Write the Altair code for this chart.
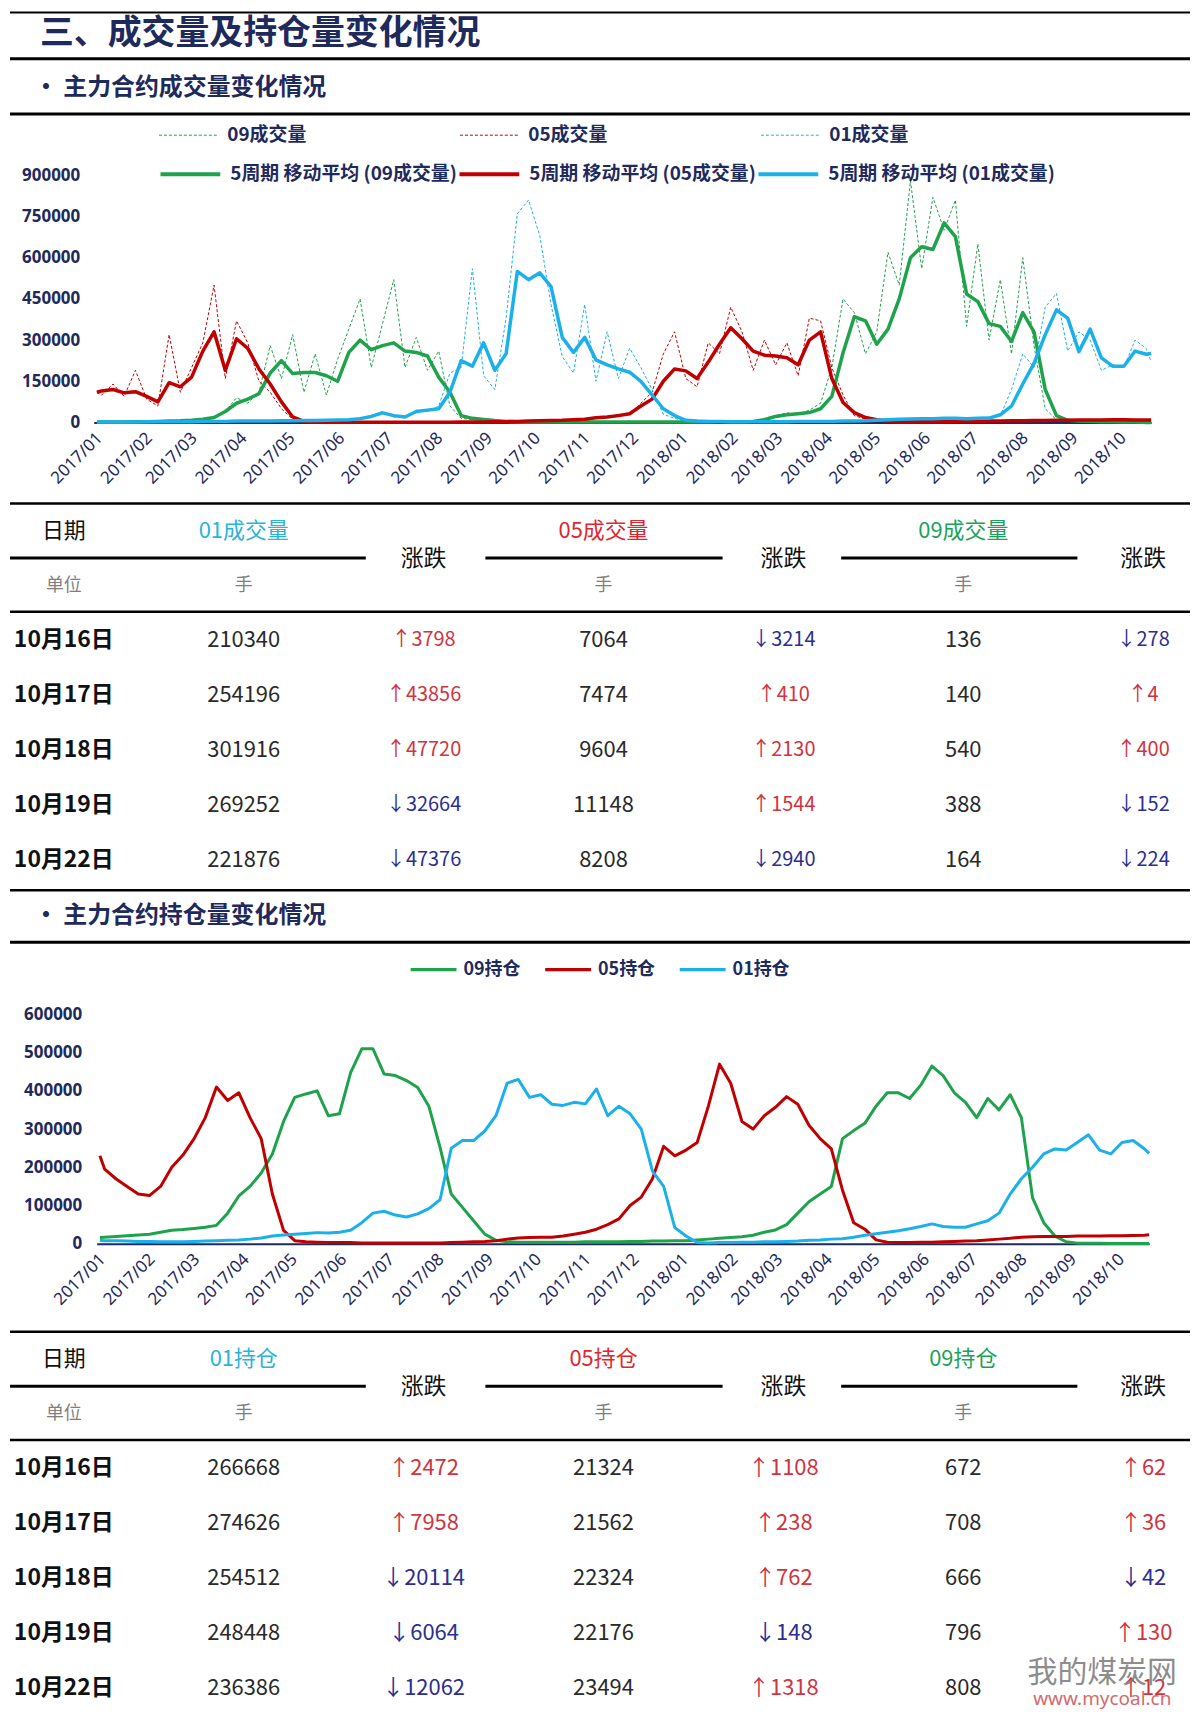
import altair as alt
import pandas as pd

FONT = "Noto Sans CJK SC"
NUMFONT = "Noto Sans"
NAVY = "#1f2a5c"
GREEN = "#1fa24c"
RED = "#c00000"
BLUE = "#1cb0ea"
UPC = "#d0343f"
DOWNC = "#2c2f8e"
GRAY = "#7f7f7f"
BLACK = "#111111"
VALC = "#2a2a2a"
H01 = "#2bb3d8"
H05 = "#e0262d"
H09 = "#1ba25a"
W = 1184

# ---------------- dates (first trading day, weekly Fridays, last day) ----------------
week_dates = [d.strftime("%Y-%m-%d") for d in pd.date_range("2017-01-06", periods=94, freq="7D")]
dates = ["2017-01-03"] + week_dates + ["2018-10-22"]

# ---------------- chart 1: volume (thousand lots) ----------------
vol09_raw = [1,
    1, 3, 2, 4, 3, 5, 4, 8, 10, 14,
    15, 40, 90, 70, 110, 280, 160, 320, 110, 250,
    100, 230, 340, 450, 200, 360, 520, 200, 310, 190,
    260, 60, 15, 10, 8, 5, 3, 2, 2, 1,
    2, 2, 1, 2, 2, 1, 2, 2, 2, 2,
    2, 2, 1, 2, 3, 3, 2, 4, 5, 15,
    25, 35, 30, 45, 70, 200, 450, 400, 250, 330,
    620, 500, 880, 560, 820, 700, 810, 350, 650, 300,
    520, 250, 600, 280, 50, 10, 6, 4, 3, 2,
    2, 1, 1, 0.388, 0.164]
vol09_ma = [2,
    2, 2, 2, 3, 3, 4, 5, 6, 8, 12,
    18, 40, 70, 85, 105, 180, 225, 178, 182, 182,
    170, 150, 255, 300, 265, 280, 290, 260, 255, 242,
    165, 110, 25, 15, 11, 7, 4, 3, 2, 2,
    2, 2, 2, 2, 2, 2, 2, 2, 2, 2,
    2, 2, 2, 2, 2, 3, 3, 3, 4, 10,
    22, 28, 32, 36, 50, 95, 254, 385, 370, 285,
    340, 450, 600, 640, 630, 727, 677, 468, 440, 360,
    350, 295, 400, 330, 120, 25, 8, 5, 4, 3,
    3, 2, 2, 0.3, 0.27]
vol05_raw = [110,
    100, 140, 95, 190, 85, 60, 320, 110, 200, 290,
    500, 160, 370, 290, 150, 110, 50, 12, 3, 1,
    1, 1, 1, 1, 1, 1, 1, 1, 1, 1,
    1, 2, 1, 3, 2, 4, 3, 5, 4, 7,
    6, 9, 12, 10, 20, 18, 30, 28, 70, 110,
    250, 330, 160, 130, 290, 250, 420, 330, 190, 300,
    210, 290, 170, 380, 370, 200, 100, 25, 12, 3,
    3, 2, 3, 4, 3, 4, 3, 5, 4, 6,
    5, 7, 6, 8, 7, 9, 8, 10, 9, 10,
    11, 9, 7.5, 11.148, 8.208]
vol05_ma = [110,
    115, 120, 108, 112, 95, 75, 145, 130, 165, 260,
    330, 190, 305, 270, 195, 140, 75, 20, 4, 2,
    2, 1, 1, 1, 1, 1, 1, 1, 1, 1,
    1, 1, 2, 2, 2, 3, 3, 4, 5, 6,
    7, 8, 10, 12, 17, 20, 25, 32, 60, 85,
    150, 195, 188, 160, 220, 285, 345, 305, 260, 245,
    242, 236, 210, 300, 330, 160, 73, 36, 18, 10,
    5, 3, 3, 3, 3, 3, 4, 4, 4, 5,
    5, 6, 6, 7, 7, 8, 8, 9, 9, 9,
    10, 10, 9, 9.1, 8.7]
vol01_raw = [2,
    2, 3, 2, 3, 2, 4, 3, 4, 3, 5,
    4, 5, 6, 5, 6, 5, 7, 6, 8, 7,
    9, 8, 12, 15, 25, 40, 20, 18, 45, 40,
    60, 180, 200, 560, 170, 120, 380, 760, 810, 680,
    430, 240, 180, 430, 150, 330, 160, 270, 200, 120,
    30, 15, 5, 4, 3, 5, 3, 2, 4, 3,
    3, 4, 3, 5, 4, 5, 4, 6, 5, 9,
    11, 13, 12, 15, 13, 16, 14, 15, 14, 18,
    25, 120, 250, 200, 420, 470, 260, 330, 300, 190,
    210, 200, 300, 269.252, 221.876]
vol01_ma = [2,
    2, 2, 2, 2, 3, 3, 3, 3, 3, 4,
    4, 4, 5, 5, 5, 5, 6, 6, 7, 7,
    8, 9, 10, 14, 22, 35, 25, 20, 40, 45,
    50, 110, 225, 205, 290, 190, 250, 550, 520, 545,
    495, 310, 255, 310, 228, 210, 195, 183, 150, 100,
    50, 25, 8, 5, 4, 4, 3, 3, 3, 3,
    3, 3, 4, 4, 4, 4, 5, 5, 6, 8,
    10, 12, 13, 14, 14, 15, 15, 14, 15, 16,
    28, 60, 140, 215, 320, 410, 380, 258, 340, 235,
    205, 205, 260, 248.4, 251.5]

# ---------------- chart 2: open interest (thousand lots) ----------------
oi09 = [16,
    17, 19, 21, 23, 25, 30, 35, 37, 40, 43,
    48, 80, 125, 150, 185, 235, 320, 383, 392, 400,
    335, 340, 448, 510, 510, 444, 440, 427, 409, 360,
    252, 130, 95, 60, 25, 9, 5, 4, 4, 4,
    4, 4, 4, 5, 5, 5, 5, 6, 6, 7,
    7, 8, 8, 10, 12, 14, 16, 18, 22, 30,
    36, 50, 80, 110, 130, 150, 275, 296, 315, 360,
    395, 395, 380, 415, 465, 440, 395, 370, 330, 380,
    350, 390, 330, 120, 55, 20, 5, 1.5, 1, 1,
    0.8, 0.7, 0.7, 0.796, 0.808]
oi05 = [230,
    195, 170, 150, 130, 126, 150, 200, 232, 275, 330,
    410, 375, 395, 330, 275, 130, 35, 8, 5, 4,
    3, 3, 3, 2, 2, 2, 2, 2, 2, 2,
    2, 3, 4, 5, 6, 8, 12, 15, 16, 17,
    17, 20, 25, 30, 38, 50, 65, 100, 122, 170,
    255, 230, 245, 265, 360, 470, 420, 320, 300, 335,
    357, 385, 365, 310, 275, 248, 140, 55, 38, 10,
    4, 3, 3, 4, 4, 5, 6, 7, 8, 10,
    12, 14, 17, 18, 19, 19, 19, 20, 20, 20,
    21, 21, 21.3, 22.176, 23.494]
oi01 = [9,
    8, 8, 7, 6, 6, 5, 5, 5, 6, 7,
    8, 9, 10, 12, 15, 20, 23, 25, 27, 29,
    28, 30, 35, 55, 80, 85, 75, 70, 78, 92,
    115, 250, 270, 270, 295, 335, 420, 430, 383, 390,
    365, 362, 370, 366, 405, 335, 360, 340, 300, 190,
    150, 42, 20, 3, 2, 3, 3, 4, 4, 5,
    5, 6, 7, 9, 10, 12, 13, 17, 22, 26,
    30, 34, 39, 45, 52, 45, 43, 43, 52, 60,
    80, 130, 170, 200, 235, 248, 245, 265, 285, 245,
    235, 265, 270, 248.448, 236.386]

Y1_TICKS = [0, 150000, 300000, 450000, 600000, 750000, 900000]
Y2_TICKS = [0, 100000, 200000, 300000, 400000, 500000, 600000]

# ---------------- tables ----------------
tbl_dates = ["10月16日", "10月17日", "10月18日", "10月19日", "10月22日"]
vol01_t = [210340, 254196, 301916, 269252, 221876]
vol01_c = [3798, 43856, 47720, -32664, -47376]
vol05_t = [7064, 7474, 9604, 11148, 8208]
vol05_c = [-3214, 410, 2130, 1544, -2940]
vol09_t = [136, 140, 540, 388, 164]
vol09_c = [-278, 4, 400, -152, -224]

oi01_t = [266668, 274626, 254512, 248448, 236386]
oi01_c = [2472, 7958, -20114, -6064, -12062]
oi05_t = [21324, 21562, 22324, 22176, 23494]
oi05_c = [1108, 238, 762, -148, 1318]
oi09_t = [672, 708, 666, 796, 808]
oi09_c = [62, 36, -42, 130, 12]


def long_df(names, arrays, field):
    rows = []
    for n, arr in zip(names, arrays):
        for d, v in zip(dates, arr):
            rows.append({"date": d, field: n, "value": v * 1000})
    return pd.DataFrame(rows)


def text_layer(text, x, y, size, color, weight="normal", align="left", font=FONT, opacity=1.0):
    return alt.Chart(pd.DataFrame({"t": [text]})).mark_text(
        align=align, baseline="middle", font=font, fontSize=size, fontWeight=weight,
        color=color, opacity=opacity
    ).encode(x=alt.value(x), y=alt.value(y), text="t:N")


def hrule(y, x1, x2, width, color="#000000"):
    return alt.Chart(pd.DataFrame({"k": [0]})).mark_rule(color=color, strokeWidth=width).encode(
        x=alt.value(x1), x2=alt.value(x2), y=alt.value(y))


def x_enc(rng, off):
    return alt.X(
        "date:T",
        scale=alt.Scale(domain=[alt.DateTime(year=2017, month=1, date=1),
                                alt.DateTime(year=2018, month=10, date=22)], range=rng),
        axis=alt.Axis(title=None, format="%Y/%m", labelAngle=-45,
                      tickCount=alt.TimeIntervalStep(interval="month", step=1),
                      labelOverlap=False, labelFlush=False, labelFont=NUMFONT, labelFontSize=17,
                      labelColor=NAVY, ticks=False, grid=False, domainColor=NAVY, domainWidth=2,
                      labelPadding=7, offset=off))


def y_enc(top, rng, ticks, off):
    return alt.Y(
        "value:Q", scale=alt.Scale(domain=[0, top], range=rng, nice=False),
        axis=alt.Axis(title=None, values=ticks, format="d", labelFont=NUMFONT, labelFontSize=17,
                      labelFontWeight="bold", labelColor=NAVY, domain=False, ticks=False, grid=False,
                      labelPadding=2, offset=off))


# ---------------- section 0: header ----------------
S0 = alt.layer(
    hrule(0.75, 0, W, 2),
    text_layer("三、成交量及持仓量变化情况", 30, 22, 34, NAVY, "bold"),
    hrule(47, 0, W, 3),
    text_layer("• 主力合约成交量变化情况", 24, 76, 24, NAVY, "bold"),
    hrule(102.5, 0, W, 3),
).properties(width=W, height=104)

# ---------------- section 1: volume chart ----------------
RAW_NAMES = ["09成交量", "05成交量", "01成交量"]
MA_NAMES = ["5周期 移动平均 (09成交量)", "5周期 移动平均 (05成交量)", "5周期 移动平均 (01成交量)"]
df_raw = long_df(RAW_NAMES, [vol09_raw, vol05_raw, vol01_raw], "raw")
df_ma = long_df(MA_NAMES, [vol09_ma, vol05_ma, vol01_ma], "ma")

leg_common = dict(title=None, orient="none", direction="horizontal", symbolType="stroke",
                  symbolSize=3600, labelFont=FONT, labelFontSize=19, labelFontWeight="bold",
                  labelColor=NAVY, labelOffset=8, padding=0, labelLimit=600)

raw_layer = alt.Chart(df_raw).mark_line(strokeWidth=1, strokeDash=[3, 2]).encode(
    x=x_enc([84, 1145], -80),
    y=y_enc(900000, [308, 60], Y1_TICKS, -72),
    color=alt.Color("raw:N", scale=alt.Scale(domain=RAW_NAMES, range=[GREEN, RED, BLUE]),
                    legend=alt.Legend(legendX=149, legendY=-11, columnPadding=151,
                                      symbolStrokeWidth=1, symbolDash=[3, 2], **leg_common)),
)
ma_layer = alt.Chart(df_ma).mark_line(strokeWidth=3.5, strokeJoin="round").encode(
    x=x_enc([84, 1145], -80),
    y=y_enc(900000, [308, 60], Y1_TICKS, -72),
    color=alt.Color("ma:N", scale=alt.Scale(domain=MA_NAMES, range=[GREEN, RED, BLUE]),
                    legend=alt.Legend(legendX=149, legendY=27, columnPadding=-12,
                                      symbolStrokeWidth=4, **leg_common)),
)
S1 = alt.layer(raw_layer, ma_layer).resolve_scale(color="independent").properties(width=W, height=388)


# ---------------- table builder ----------------
def table_section(titles, title_colors, vals, chgs, chg_size, height, extra=()):
    xs = alt.Scale(domain=[0, 6], range=[54, 1137])
    ys = alt.Scale(domain=[0, 4], range=[138, 359])

    def hdr(texts, xis, y, size, color):
        return alt.Chart(pd.DataFrame({"xi": xis, "t": texts})).mark_text(
            align="center", baseline="middle", font=FONT, fontSize=size, color=color
        ).encode(x=alt.X("xi:Q", scale=xs, axis=None), y=alt.value(y), text="t:N")

    layers = [
        hrule(1.25, 0, W, 2.5),
        hrule(56, 0, 357, 3), hrule(56, 477, 715, 3), hrule(56, 834, 1071, 3),
        hrule(110, 0, W, 2.5),
        hdr(["日期"], [0], 29, 22, BLACK),
        hdr([titles[0]], [1], 29, 22, title_colors[0]),
        hdr([titles[1]], [3], 29, 22, title_colors[1]),
        hdr([titles[2]], [5], 29, 22, title_colors[2]),
        hdr(["涨跌", "涨跌", "涨跌"], [2, 4, 6], 57, 23, BLACK),
        hdr(["单位", "手", "手", "手"], [0, 1, 3, 5], 84, 18, GRAY),
    ]
    rows = list(range(5))
    date_df = pd.DataFrame({"xi": [0] * 5, "r": rows, "t": tbl_dates})
    layers.append(alt.Chart(date_df).mark_text(
        align="center", baseline="middle", font=FONT, fontSize=23, fontWeight="bold", color=BLACK
    ).encode(x=alt.X("xi:Q", scale=xs, axis=None), y=alt.Y("r:Q", scale=ys, axis=None), text="t:N"))

    val_df = pd.DataFrame({"xi": [1] * 5 + [3] * 5 + [5] * 5, "r": rows * 3,
                           "v": vals[0] + vals[1] + vals[2]})
    layers.append(alt.Chart(val_df).mark_text(
        align="center", baseline="middle", font=FONT, fontSize=22, color=VALC
    ).encode(x=alt.X("xi:Q", scale=xs, axis=None), y=alt.Y("r:Q", scale=ys, axis=None),
             text=alt.Text("v:Q", format="d")))

    chg_df = pd.DataFrame({"xi": [2] * 5 + [4] * 5 + [6] * 5, "r": rows * 3,
                           "c": chgs[0] + chgs[1] + chgs[2]})
    layers.append(alt.Chart(chg_df).transform_calculate(
        lbl="(datum.c > 0 ? '↑' : '↓') + abs(datum.c)"
    ).mark_text(
        align="center", baseline="middle", font=FONT, fontSize=chg_size
    ).encode(x=alt.X("xi:Q", scale=xs, axis=None), y=alt.Y("r:Q", scale=ys, axis=None),
             text="lbl:N",
             color=alt.condition("datum.c > 0", alt.value(UPC), alt.value(DOWNC))))
    layers.extend(extra)
    return alt.layer(*layers).properties(width=W, height=height)


S2 = table_section(["01成交量", "05成交量", "09成交量"], [H01, H05, H09],
                   [vol01_t, vol05_t, vol09_t], [vol01_c, vol05_c, vol09_c], 20, 388)

# ---------------- section 3: subtitle 2 ----------------
S3 = alt.layer(
    hrule(1.25, 0, W, 2.5),
    text_layer("• 主力合约持仓量变化情况", 24, 27, 24, NAVY, "bold"),
    hrule(53.5, 0, W, 3),
).properties(width=W, height=55)

# ---------------- section 4: open interest chart ----------------
OI_NAMES = ["09持仓", "05持仓", "01持仓"]
df_oi = long_df(OI_NAMES, [oi09, oi05, oi01], "oi")
S4 = alt.Chart(df_oi).mark_line(strokeWidth=3, strokeJoin="round").encode(
    x=x_enc([87, 1143], -87),
    y=y_enc(600000, [301, 71], Y2_TICKS, -74),
    color=alt.Color("oi:N", scale=alt.Scale(domain=OI_NAMES, range=[GREEN, RED, BLUE]),
                    legend=alt.Legend(title=None, orient="none", direction="horizontal",
                                      legendX=400, legendY=1, symbolType="stroke", symbolSize=2116,
                                      symbolStrokeWidth=3.5, labelFont=FONT, labelFontSize=18,
                                      labelFontWeight="bold", labelColor=NAVY, labelOffset=5,
                                      columnPadding=17, padding=0)),
).properties(width=W, height=388)

# ---------------- section 5: open interest table ----------------
watermark = [
    text_layer("我的煤炭网", 1096, 344, 30, "#7a7a7a", "normal", "center", FONT, 0.85),
    text_layer("www.mycoal.cn", 1096, 370, 19, "#d05a5a", "normal", "center", NUMFONT, 0.9),
]
S5 = table_section(["01持仓", "05持仓", "09持仓"], [H01, H05, H09],
                   [oi01_t, oi05_t, oi09_t], [oi01_c, oi05_c, oi09_c], 22, 379, watermark)

chart = alt.vconcat(S0, S1, S2, S3, S4, S5, spacing=0, bounds="flush").resolve_scale(
    color="independent"
).properties(padding=0, background="white").configure_view(stroke=None)

chart.save("out.html", embed_options={"renderer": "svg", "actions": False})
